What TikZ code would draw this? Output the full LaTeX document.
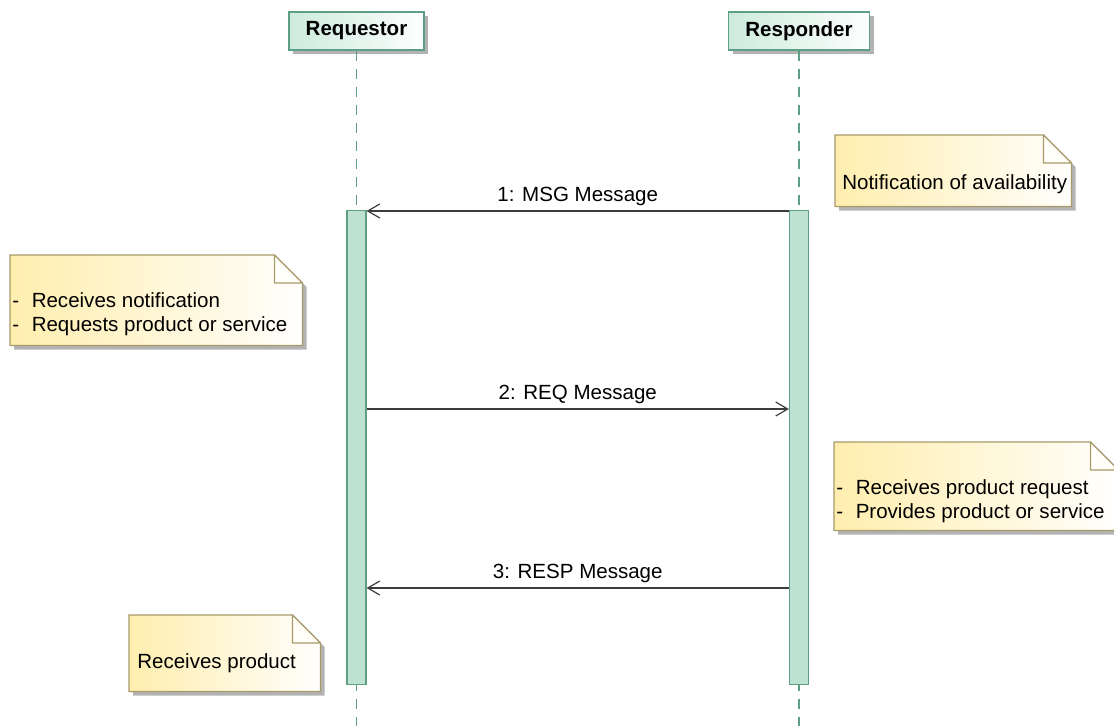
\documentclass[tikz,border=0pt]{standalone}
\usepackage{fontspec}
\setmainfont{Liberation Sans}
\usetikzlibrary{backgrounds,calc,arrows.meta,shadows}

\definecolor{lifeline}{HTML}{5E9E84}
\definecolor{headfill}{HTML}{CDEBDD}
\definecolor{barfill}{HTML}{BEE2D2}
\definecolor{notefill}{HTML}{FFEEAE}
\definecolor{noteline}{HTML}{A89A6A}
\definecolor{shadowgray}{HTML}{B3B3B3}
\definecolor{msgline}{HTML}{3C3C3C}
\newcommand\notedash{-\hspace{9.5pt}}

\begin{document}
\begin{tikzpicture}[x=0.75pt,y=-0.75pt,every node/.style={font=\fontsize{15.4}{18}\selectfont}]
    % `head' is the participant box on top of a lifeline.
    % `bar' is an activation bar, `msg' a message arrow.
    % `notebox' only reserves the place of a note, its shape is drawn on the background.
    \tikzstyle{head} = [draw=lifeline,line width=0.9pt,left color=headfill,right color=white!96!headfill,
      minimum height=28.5pt,inner sep=0pt,font=\fontsize{15.4}{18}\selectfont\bfseries,
      general shadow={fill=shadowgray,shadow xshift=3pt,shadow yshift=-3pt}]
    \tikzstyle{life} = [draw=lifeline,line width=0.9pt,dash pattern=on 7.5pt off 6pt]
    \tikzstyle{bar} = [draw=lifeline,line width=0.9pt,fill=barfill,minimum width=14.25pt,
      minimum height=355.5pt,inner sep=0pt,anchor=north]
    \tikzstyle{msg} = [draw=msgline,line width=0.9pt,-{Straight Barb[length=9pt,width=10.5pt,line width=0.9pt]}]
    \tikzstyle{msglabel} = [anchor=base,yshift=7.5pt,inner sep=0pt,text=black]
    \tikzstyle{notebox} = [anchor=north west,inner sep=0pt]
    \tikzstyle{notetext} = [anchor=base west,inner sep=0pt,align=left]
    %
    \useasboundingbox (0,0) rectangle (1114,726);
    \coordinate (bottom) at (0,726);
    \coordinate (row1) at (0,211);
    \coordinate (row2) at (0,409);
    \coordinate (row3) at (0,588);

    % Participants and lifelines.
    \node[head,minimum width=101.25pt] (req) at (356.5,31) {Requestor};
    \node[head,minimum width=105.75pt] (res) at (799,31) {Responder};
    \draw[life] (req.south) -- (req.south |- bottom);
    \draw[life] (res.south) -- (res.south |- bottom);
    \node[bar] (reqbar) at (356.5,210) {};
    \node[bar] (resbar) at (799,210) {};

    % Messages.
    \draw[msg] (resbar.west |- row1) -- node[msglabel] {1: MSG Message} (reqbar.east |- row1);
    \draw[msg] (reqbar.east |- row2) -- node[msglabel] {2: REQ Message} (resbar.west |- row2);
    \draw[msg] (resbar.west |- row3) -- node[msglabel] {3: RESP Message} (reqbar.east |- row3);

    % Notes (a text of two lines sits on the baseline of its last line).
    \node[notebox,minimum width=177pt,minimum height=53.25pt] (avail) at (835,135) {};
    \node[notebox,minimum width=219pt,minimum height=67.5pt] (notify) at (10,255) {};
    \node[notebox,minimum width=213pt,minimum height=66pt] (request) at (834,442) {};
    \node[notebox,minimum width=143.25pt,minimum height=57pt] (product) at (129,615) {};
    \node[notetext] (avail-t) at (842,189) {Notification of availability};
    \node[notetext] (notify-t) at (12,331) {\notedash Receives notification\\\notedash Requests product or service};
    \node[notetext] (request-t) at (836,518) {\notedash Receives product request\\\notedash Provides product or service};
    \node[notetext] (product-t) at (137,668) {Receives product};

    \begin{pgfonlayer}{background}
      \foreach \n in {avail,notify,request,product}{
        % Shadow, body and folded corner.
        \fill[shadowgray] ($(\n.north west)+(4,4)$) -- ($(\n.north east)+(-24,4)$) -- ($(\n.north east)+(4,32)$)
          -- ($(\n.south east)+(4,4)$) -- ($(\n.south west)+(4,4)$) -- cycle;
        \shadedraw[left color=notefill,right color=white!97!notefill,draw=noteline,line width=0.9pt]
          (\n.north west) -- ($(\n.north east)+(-28,0)$) -- ($(\n.north east)+(0,28)$)
          -- (\n.south east) -- (\n.south west) -- cycle;
        \filldraw[fill=white!92!notefill,draw=noteline,line width=0.9pt,line join=round]
          ($(\n.north east)+(-28,0)$) -- ($(\n.north east)+(-28,28)$) -- ($(\n.north east)+(0,28)$) -- cycle;
      }
    \end{pgfonlayer}
\end{tikzpicture}
\end{document}
